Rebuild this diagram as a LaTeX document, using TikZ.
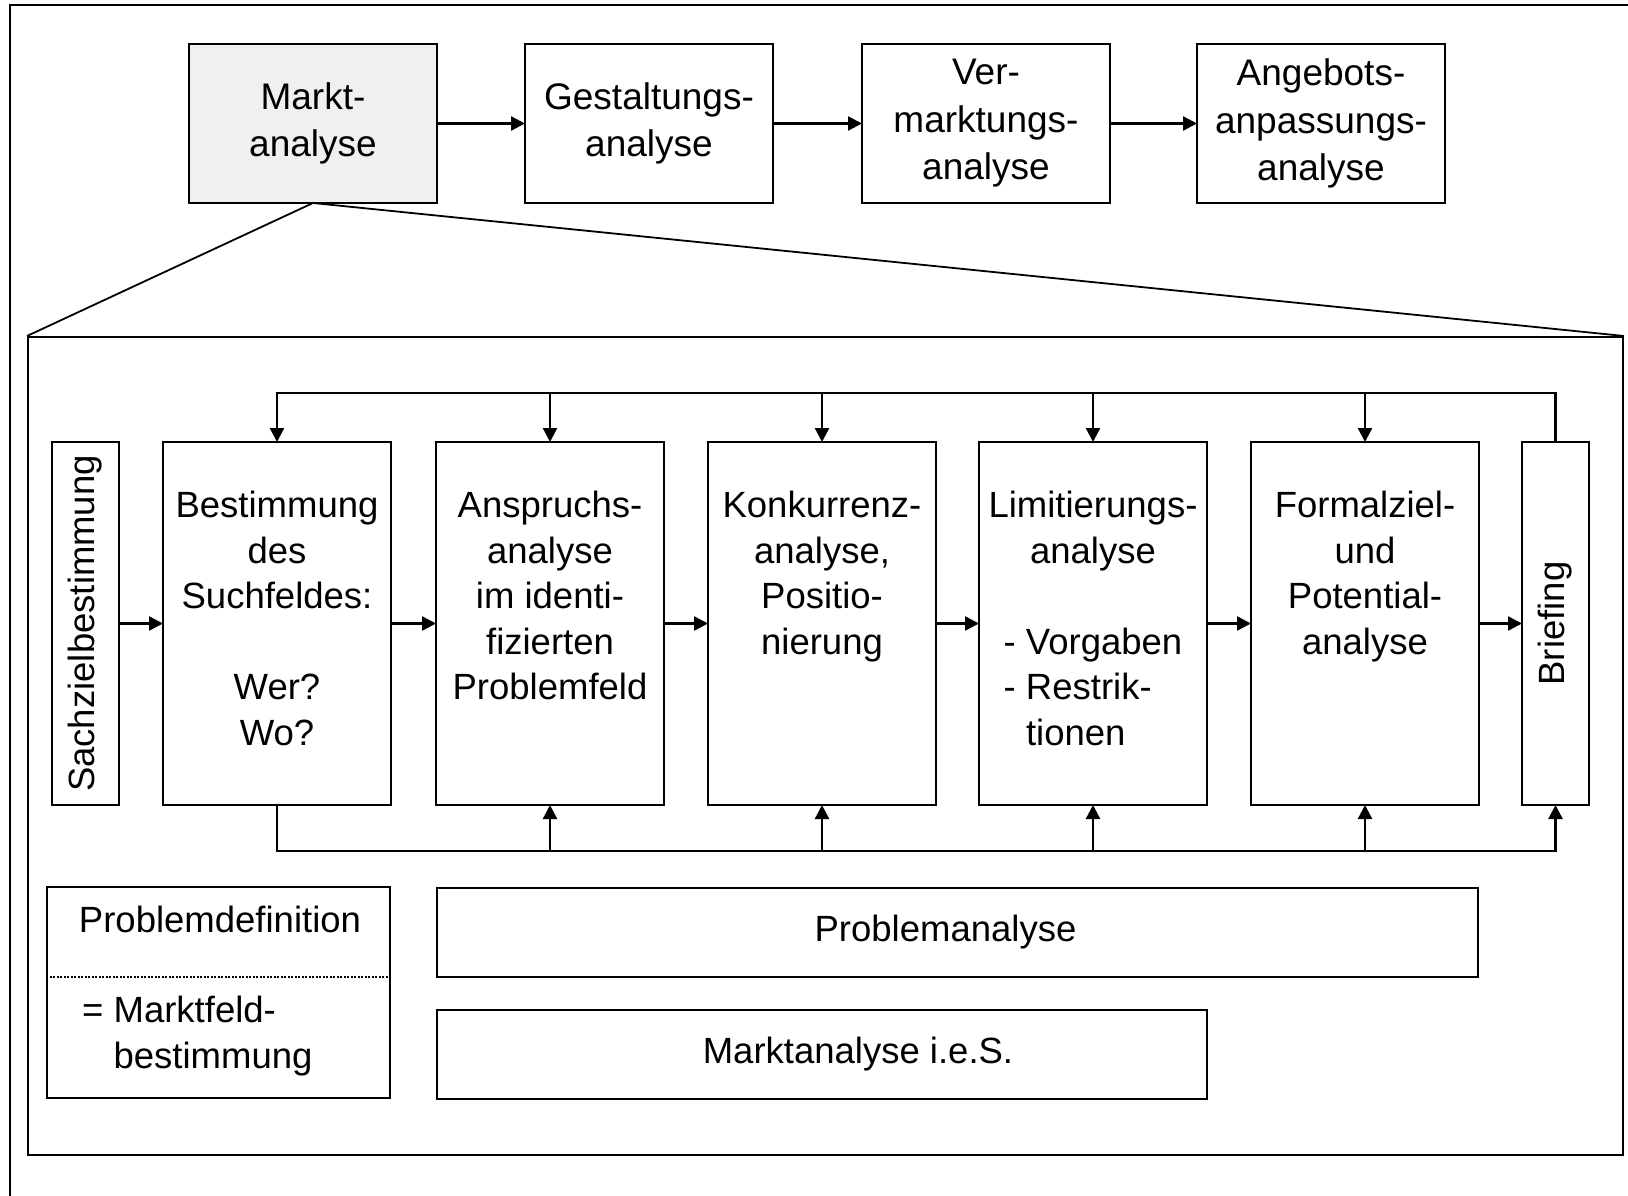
\documentclass[tikz,border=0pt]{standalone}
\usepackage{fontspec}
\setmainfont{Liberation Sans}
\usepackage{graphicx}
\usepackage{calc}
\usepackage{tikz}
\usetikzlibrary{positioning, arrows.meta}
\definecolor{markt-gray}{RGB}{240, 240, 240}
\newcommand{\listline}[1]{\makebox[\widthof{- Vorgaben}][l]{#1}}

\begin{document}
\begin{tikzpicture}[x=1pt, y=-1pt]
	\tikzset{rahmen/.style={draw, line width=2pt}}
	\tikzset{phase/.style={rectangle, draw, line width=1.5pt, minimum width=248pt, minimum height=159pt, inner sep=0pt, outer sep=0pt, align=center, font=\fontsize{37}{47.5}\selectfont}}
	\tikzset{stage/.style={rectangle, draw, line width=1.5pt, minimum width=228pt, minimum height=363pt, inner sep=0pt, outer sep=0pt, font=\fontsize{36.5}{45.5}\selectfont}}
	\tikzset{slim/.style={stage, minimum width=67pt}}
	\tikzset{stagetext/.style={inner sep=0pt, align=center, font=\fontsize{36.5}{45.5}\selectfont}}
	\tikzset{leiste/.style={rectangle, draw, line width=1.5pt, minimum height=89pt, inner sep=0pt, font=\fontsize{36.5}{45.5}\selectfont}}
	\tikzset{arr/.style={-{Triangle[length=14pt, width=14pt]}, line width=2.4pt}}
	\tikzset{lupe/.style={line width=1.8pt}}

	\useasboundingbox (0,0) rectangle (1628,1196);
	\draw[rahmen] (1628,5) -| (10,1196);

	% Phasen
	\node[phase, fill=markt-gray] at (313,123.5) (markt) {Markt-\\analyse};
	\node[phase, right=88pt of markt] (gestalt) {Gestaltungs-\\analyse};
	\node[phase, right=89pt of gestalt] (vermarkt) {Ver-\\marktungs-\\analyse};
	\node[phase, right=87pt of vermarkt] (angebot) {Angebots-\\anpassungs-\\analyse};
	\foreach \a/\b in {markt/gestalt, gestalt/vermarkt, vermarkt/angebot}
		\draw[arr] (\a) -- (\b);

	% Detail Marktanalyse
	\node[rahmen, minimum width=1595pt, minimum height=818pt, inner sep=0pt] at (825.5,746) (detail) {};
	\draw[lupe] (markt.south) -- (detail.north west);
	\draw[lupe] (markt.south) -- (detail.north east);

	\node[stage] at (277,623.5) (best) {};
	\node[stage, right=45pt of best] (ansp) {};
	\node[stage, right=44pt of ansp] (konk) {};
	\node[stage, right=43pt of konk] (limi) {};
	\node[stage, right=44pt of limi] (form) {};
	\node[slim, right=43pt of form] (brief) {\rotatebox{90}{Briefing}};
	\node[slim, left=44pt of best] (sachziel) {\rotatebox{90}{Sachzielbestimmung}};

	\node[stagetext, below=49pt of best.north] (bestT) {Bestimmung\\des\\Suchfeldes:\\[45.5pt]Wer?\\Wo?};
	\node[stagetext, below=49pt of ansp.north] (anspT) {Anspruchs-\\analyse\\im identi-\\fizierten\\Problemfeld};
	\node[stagetext, below=49pt of konk.north] (konkT) {Konkurrenz-\\analyse,\\Positio-\\nierung};
	\node[stagetext, below=49pt of limi.north] (limiT) {Limitierungs-\\analyse\\[45.5pt]\listline{- Vorgaben}\\\listline{- Restrik-}\\\listline{\phantom{- }tionen}};
	\node[stagetext, below=49pt of form.north] (formT) {Formalziel-\\und\\Potential-\\analyse};

	\foreach \a/\b in {sachziel/best, best/ansp, ansp/konk, konk/limi, limi/form, form/brief}
		\draw[arr] (\a) -- (\b);

	% Rueckkopplung
	\coordinate (oben) at (0,393);
	\coordinate (unten) at (0,851);
	\draw[arr] (brief.north) -- (brief.north |- oben) -- (best.north |- oben) -- (best.north);
	\foreach \s in {ansp, konk, limi, form}
		\draw[arr] (\s.north |- oben) -- (\s.north);
	\draw[arr] (best.south) -- (best.south |- unten) -- (brief.south |- unten) -- (brief.south);
	\foreach \s in {ansp, konk, limi, form}
		\draw[arr] (\s.south |- unten) -- (\s.south);

	% Legende unten
	\node[draw, line width=1.5pt, minimum width=343pt, minimum height=211pt, inner sep=0pt] at (218.5,992.5) (pdef) {};
	\node[stagetext, anchor=base] at (220,932) (pdefT) {Problemdefinition};
	\draw[line width=1.5pt, dash pattern=on 2pt off 1.5pt] ([yshift=15.5pt]pdef.west) -- ([yshift=15.5pt]pdef.east);
	\node[stagetext, align=left, anchor=north west] at (82,996) (mfeld) {= Marktfeld-\\\phantom{= }bestimmung};
	\node[leiste, minimum width=1041pt] at (957.5,932.5) (panalyse) {Problemanalyse\hspace*{24pt}};
	\node[leiste, minimum width=770pt] at (822,1054.5) (mies) {\hspace*{72pt}Marktanalyse i.e.S.};
\end{tikzpicture}
\end{document}
